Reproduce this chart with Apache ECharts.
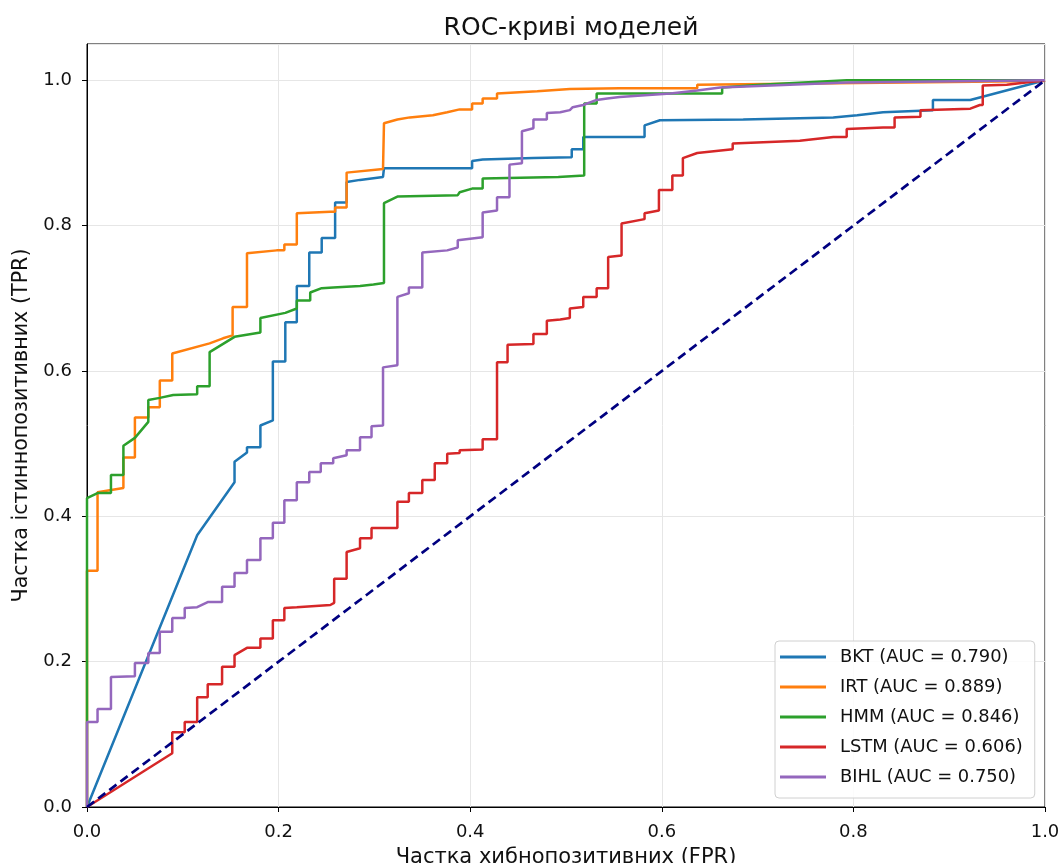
<!DOCTYPE html>
<html>
<head>
<meta charset="utf-8">
<script src="https://cdn.jsdelivr.net/npm/echarts@6/dist/echarts.min.js"></script>
<style>
html,body{margin:0;padding:0;background:#fff;}
#c{width:1059px;height:863px;}
</style>
</head>
<body>
<div id="c"></div>
<script>
// ---- data (FPR, TPR) ----
const seriesNames = ['BKT (AUC = 0.790)','IRT (AUC = 0.889)','HMM (AUC = 0.846)','LSTM (AUC = 0.606)','BIHL (AUC = 0.750)'];
const xTicks = [0,0.2,0.4,0.6,0.8,1.0];
const yTicks = [0,0.2,0.4,0.6,0.8,1.0];

const bkt = [[0,0],[0.115,0.374],[0.154,0.447],[0.154,0.475],[0.167,0.488],[0.167,0.495],[0.181,0.495],[0.181,0.525],[0.194,0.532],[0.194,0.613],[0.207,0.613],[0.207,0.667],[0.219,0.667],[0.219,0.717],[0.232,0.717],[0.232,0.763],[0.245,0.763],[0.245,0.783],[0.259,0.783],[0.259,0.832],[0.271,0.832],[0.271,0.860],[0.285,0.863],[0.309,0.867],[0.310,0.867],[0.310,0.879],[0.402,0.879],[0.402,0.889],[0.413,0.891],[0.466,0.893],[0.506,0.894],[0.506,0.905],[0.518,0.905],[0.518,0.922],[0.582,0.922],[0.582,0.938],[0.598,0.945],[0.685,0.946],[0.779,0.949],[0.804,0.952],[0.831,0.956],[0.883,0.959],[0.883,0.973],[0.922,0.973],[1,1]];

const irt = [[0,0],[0,0.325],[0.011,0.325],[0.011,0.433],[0.038,0.439],[0.038,0.481],[0.050,0.481],[0.050,0.536],[0.064,0.536],[0.064,0.550],[0.076,0.550],[0.076,0.587],[0.089,0.587],[0.089,0.624],[0.128,0.638],[0.142,0.645],[0.152,0.649],[0.152,0.688],[0.167,0.688],[0.167,0.762],[0.198,0.766],[0.206,0.766],[0.206,0.774],[0.219,0.774],[0.219,0.817],[0.254,0.819],[0.259,0.819],[0.259,0.825],[0.271,0.825],[0.271,0.873],[0.309,0.878],[0.310,0.878],[0.310,0.941],[0.324,0.946],[0.337,0.949],[0.361,0.952],[0.376,0.956],[0.389,0.960],[0.402,0.960],[0.402,0.968],[0.413,0.968],[0.413,0.975],[0.428,0.975],[0.428,0.982],[0.442,0.983],[0.470,0.985],[0.504,0.988],[0.556,0.989],[0.637,0.989],[0.637,0.994],[0.998,0.999],[1,1]];

const hmm = [[0,0],[0,0.425],[0.011,0.432],[0.025,0.432],[0.025,0.457],[0.038,0.457],[0.038,0.497],[0.050,0.508],[0.064,0.530],[0.064,0.560],[0.076,0.563],[0.090,0.567],[0.115,0.568],[0.115,0.579],[0.128,0.579],[0.128,0.626],[0.154,0.647],[0.181,0.653],[0.181,0.673],[0.207,0.680],[0.219,0.686],[0.219,0.697],[0.233,0.697],[0.233,0.708],[0.245,0.714],[0.257,0.715],[0.285,0.717],[0.299,0.719],[0.310,0.721],[0.310,0.831],[0.324,0.840],[0.387,0.842],[0.389,0.846],[0.402,0.851],[0.413,0.851],[0.413,0.865],[0.492,0.867],[0.494,0.869],[0.519,0.869],[0.519,0.968],[0.532,0.968],[0.532,0.982],[0.663,0.982],[0.663,0.990],[0.703,0.994],[0.793,1.0],[1,1]];

const lstm = [[0,0],[0.089,0.074],[0.089,0.103],[0.102,0.103],[0.102,0.117],[0.115,0.117],[0.115,0.151],[0.126,0.151],[0.126,0.169],[0.141,0.169],[0.141,0.193],[0.154,0.193],[0.154,0.209],[0.167,0.219],[0.181,0.219],[0.181,0.232],[0.194,0.232],[0.194,0.257],[0.206,0.257],[0.206,0.274],[0.219,0.275],[0.254,0.278],[0.258,0.281],[0.258,0.314],[0.271,0.314],[0.271,0.351],[0.285,0.356],[0.285,0.370],[0.297,0.370],[0.297,0.384],[0.324,0.384],[0.324,0.420],[0.336,0.420],[0.336,0.432],[0.350,0.432],[0.350,0.450],[0.363,0.450],[0.363,0.473],[0.376,0.473],[0.376,0.486],[0.389,0.487],[0.389,0.491],[0.413,0.492],[0.413,0.506],[0.428,0.506],[0.428,0.612],[0.439,0.612],[0.439,0.636],[0.466,0.637],[0.466,0.651],[0.480,0.651],[0.480,0.669],[0.494,0.671],[0.504,0.673],[0.504,0.686],[0.518,0.688],[0.518,0.702],[0.532,0.702],[0.532,0.714],[0.544,0.714],[0.544,0.757],[0.558,0.759],[0.558,0.803],[0.582,0.809],[0.582,0.817],[0.597,0.821],[0.597,0.849],[0.611,0.849],[0.611,0.869],[0.622,0.869],[0.622,0.893],[0.637,0.900],[0.674,0.905],[0.674,0.913],[0.744,0.917],[0.779,0.922],[0.793,0.922],[0.793,0.933],[0.831,0.935],[0.843,0.935],[0.843,0.949],[0.870,0.950],[0.870,0.959],[0.922,0.961],[0.932,0.966],[0.935,0.966],[0.935,0.993],[0.960,0.994],[1,1]];

const bihl = [[0,0],[0,0.117],[0.011,0.117],[0.011,0.135],[0.025,0.135],[0.025,0.179],[0.050,0.180],[0.050,0.198],[0.064,0.198],[0.064,0.212],[0.076,0.212],[0.076,0.241],[0.089,0.241],[0.089,0.260],[0.102,0.260],[0.102,0.274],[0.115,0.275],[0.126,0.282],[0.141,0.282],[0.141,0.303],[0.154,0.303],[0.154,0.322],[0.167,0.322],[0.167,0.340],[0.181,0.340],[0.181,0.370],[0.194,0.370],[0.194,0.391],[0.206,0.391],[0.206,0.422],[0.219,0.422],[0.219,0.447],[0.232,0.447],[0.232,0.461],[0.244,0.461],[0.244,0.473],[0.257,0.473],[0.257,0.480],[0.271,0.484],[0.271,0.491],[0.285,0.491],[0.285,0.509],[0.297,0.509],[0.297,0.524],[0.309,0.525],[0.309,0.605],[0.324,0.608],[0.324,0.702],[0.336,0.707],[0.336,0.715],[0.350,0.715],[0.350,0.763],[0.376,0.766],[0.387,0.770],[0.387,0.780],[0.413,0.784],[0.413,0.818],[0.428,0.821],[0.428,0.839],[0.441,0.839],[0.441,0.884],[0.454,0.886],[0.454,0.930],[0.466,0.934],[0.466,0.946],[0.480,0.946],[0.480,0.955],[0.494,0.956],[0.504,0.959],[0.507,0.963],[0.518,0.966],[0.518,0.968],[0.532,0.973],[0.543,0.975],[0.556,0.977],[0.609,0.982],[0.637,0.986],[0.661,0.990],[0.793,0.997],[1,1]];

const diagonal = [[0,0],[1,1]];

const colors = ['#1f77b4','#ff7f0e','#2ca02c','#d62728','#9467bd'];
const curves = [bkt, irt, hmm, lstm, bihl];

const FONT = '"DejaVu Sans", sans-serif';
const chart = echarts.init(document.getElementById('c'), null, {renderer:'canvas'});

function fmt(v){
  for (const t of xTicks){ if (Math.abs(v-t)<1e-6) return t.toFixed(1); }
  return '';
}

const series = curves.map((d,i)=>({
  name: seriesNames[i], type:'line', data:d, symbol:'none', showSymbol:false,
  lineStyle:{color:colors[i], width:2.5}, itemStyle:{color:colors[i]},
  animation:false, z:2+i, clip:true
}));
series.push({
  name:'diag', type:'line', data:diagonal, symbol:'none',
  lineStyle:{color:'#000080', width:2.7, type:[9,5]}, animation:false, z:10
});

chart.setOption({
  backgroundColor:'#fff',
  animation:false,
  title:{text:'ROC-криві моделей', left:566, top:11, textAlign:'center',
    textStyle:{fontFamily:FONT, fontSize:25, fontWeight:'normal', color:'#111'}},
  grid:{left:87, right:14, top:44, bottom:56, outerBoundsMode:'none', containLabel:false,
    show:true, borderColor:'#000', borderWidth:1, backgroundColor:'transparent'},
  legend:{
    orient:'vertical', left:775, top:641, data:seriesNames,
    backgroundColor:'rgba(255,255,255,0.85)', borderColor:'#d0d0d0', borderWidth:1, borderRadius:4,
    padding:[7,12,12,5], itemGap:12, itemWidth:46, itemHeight:3, icon:'rect',
    textStyle:{fontFamily:FONT, fontSize:17.9, color:'#111', padding:[0,0,0,9]}
  },
  xAxis:{
    type:'value', min:0, max:1, interval:0.2,
    name:'Частка хибнопозитивних (FPR)', nameLocation:'middle', nameGap:40,
    nameTextStyle:{fontFamily:FONT, fontSize:21, color:'#111'},
    axisLine:{show:true, onZero:false, lineStyle:{color:'#000', width:1}},
    axisTick:{show:true, length:5, lineStyle:{color:'#000'}},
    axisLabel:{fontFamily:FONT, fontSize:18, color:'#111', margin:16, formatter:fmt},
    splitLine:{show:true, lineStyle:{color:'#e6e6e6', width:1}}
  },
  yAxis:{
    type:'value', min:0, max:1.05, interval:0.2,
    name:'Частка істиннопозитивних (TPR)', nameLocation:'middle', nameGap:54, nameRotate:90,
    nameTextStyle:{fontFamily:FONT, fontSize:20.7, color:'#111'},
    axisLine:{show:true, onZero:false, lineStyle:{color:'#000', width:1}},
    axisTick:{show:true, length:5, lineStyle:{color:'#000'}},
    axisLabel:{fontFamily:FONT, fontSize:18, color:'#111', margin:15, formatter:fmt, showMaxLabel:false},
    splitLine:{show:true, lineStyle:{color:'#e6e6e6', width:1}}
  },
  series: series
});
</script>
</body>
</html>
